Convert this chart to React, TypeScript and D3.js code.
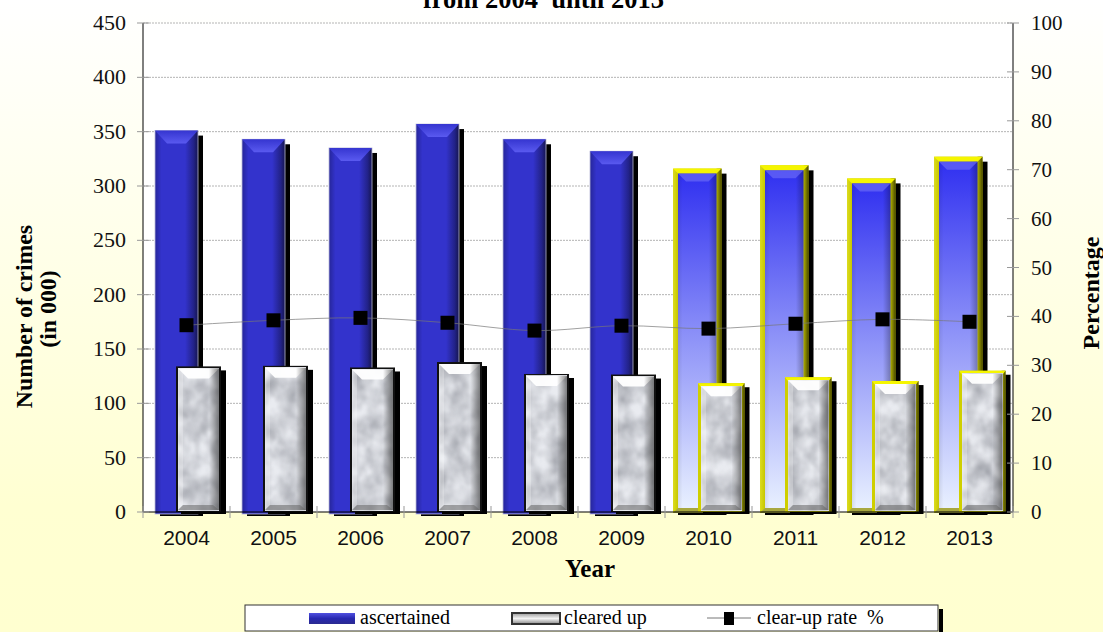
import React from "react";
import * as d3 from "d3";

const years = ["2004","2005","2006","2007","2008","2009","2010","2011","2012","2013"];
const ascertained = [351,343,335,357,343,332,316,319,307,327];
const clearedUp = [134,134.5,133,138,127,126.5,118.5,124,120.5,130];
const clearUpRate = [38.2,39.2,39.7,38.7,37.1,38.1,37.5,38.5,39.4,38.9];
const highlightYears = ["2010","2011","2012","2013"];
const leftTicks = d3.range(0, 451, 50);
const rightTicks = d3.range(0, 101, 10);

const W = 1103, H = 632;
const L = 143, R = 1013, T = 23, B = 512;
const x = d3.scaleBand<string>().domain(years).range([L, R]);
const yL = d3.scaleLinear().domain([0, 450]).range([B, T]);
const yR = d3.scaleLinear().domain([0, 100]).range([B, T]);
const serif = "'Liberation Serif', serif";
const sans = "'Liberation Sans', sans-serif";

function poly(pts: number[][], fill: string, op = 1) {
  return <polygon points={pts.map(p => p.join(",")).join(" ")} fill={fill} opacity={op} />;
}

function BlueBar({ cx, top }: { cx: number; top: number }) {
  const x0 = cx - 31.5, x1 = cx + 11.5, b = B + 2;
  return <g>
    <rect x={x0 + 5} y={top + 5} width={x1 - x0} height={b - top - 3} fill="#000" />
    <rect x={x0} y={top} width={x1 - x0} height={b - top} fill="url(#blueH)" stroke="#b9b9d8" strokeWidth={0.8} />
    {poly([[x0, top], [x1, top], [x1 - 12, top + 13], [x0 + 12, top + 13]], "url(#blueTop)")}
  </g>;
}

function YellowBar({ cx, top }: { cx: number; top: number }) {
  const x0 = cx - 35.5, x1 = cx + 13, b = B + 1, bw = 5;
  return <g>
    <rect x={x0 + 5} y={top + 5} width={x1 - x0} height={b - top - 3} fill="#000" />
    <rect x={x0} y={top} width={x1 - x0} height={b - top} fill="url(#yellowLeft)" />
    <rect x={x1 - bw} y={top} width={bw} height={b - top} fill="url(#oliveH)" />
    {poly([[x0, top], [x1, top], [x1 - bw, top + bw], [x0 + bw, top + bw]], "#f5f500")}
    {poly([[x0, b], [x1, b], [x1 - bw, b - bw], [x0 + bw, b - bw]], "#a8a840")}
    <rect x={x0 + bw} y={top + bw} width={x1 - x0 - 2 * bw} height={b - top - 2 * bw} fill="url(#blueV)" />
    <rect x={x0 + bw} y={top + bw} width={x1 - x0 - 2 * bw} height={b - top - 2 * bw} fill="url(#shadeH)" />
    {poly([[x0 + bw, top + bw], [x1 - bw, top + bw], [x1 - bw - 8, top + bw + 8], [x0 + bw + 8, top + bw + 8]], "#6a6af5", 0.7)}
  </g>;
}

function ClearedBar({ cx, top, yellow }: { cx: number; top: number; yellow: boolean }) {
  const x0 = cx - 10.5, x1 = cx + (yellow ? 36 : 34.5), b = B, bw = yellow ? 3 : 2;
  const inX0 = x0 + bw, inX1 = x1 - bw, inT = top + bw;
  return <g>
    <rect x={x0 + 5} y={top + 4} width={x1 - x0} height={b - top - 2} fill="#000" />
    <rect x={x0} y={top} width={x1 - x0} height={b - top} fill={yellow ? "#cfcf00" : "#111"} />
    {yellow && <rect x={x1 - bw - 1} y={top} width={bw + 1} height={b - top} fill="url(#oliveH)" />}
    {yellow && poly([[x0, top], [x1, top], [x1 - bw, top + bw + 1], [x0 + bw, top + bw + 1]], "#f5f500")}
    <rect x={inX0} y={inT} width={inX1 - inX0} height={b - inT - 1} fill="#dfe2e8" filter="url(#marble)" />
    {poly([[inX0, inT], [inX1, inT], [inX1 - 10, inT + 10], [inX0 + 10, inT + 10]], "#ffffff", 0.95)}
    {poly([[inX0, inT], [inX0 + 5, inT + 5], [inX0 + 5, b - 7], [inX0, b - 2]], "#ffffff", 0.25)}
    <rect x={inX1 - 10} y={inT} width={10} height={b - inT - 2} fill="url(#marbleRight)" />
    {poly([[inX0, b - 2], [inX1, b - 2], [inX1 - 6, b - 7], [inX0 + 5, b - 7]], "#666666", 0.55)}
  </g>;
}

export default function App() {
  const rateLine = d3.line<number>()
    .x((_, i) => x(years[i])! + x.bandwidth() / 2)
    .y(d => yR(d))
    .curve(d3.curveCatmullRom.alpha(0.5));
  return (
    <svg width={W} height={H} style={{ position: "absolute", left: 0, top: 0 }}>
      <defs>
        <linearGradient id="page" x1="0" y1="0" x2="0" y2="1">
          <stop offset="0" stopColor="#ffffff" />
          <stop offset="0.8" stopColor="#ffffd2" />
          <stop offset="1" stopColor="#ffffd0" />
        </linearGradient>
        <linearGradient id="blueH" x1="0" y1="0" x2="1" y2="0">
          <stop offset="0" stopColor="#26269a" />
          <stop offset="0.15" stopColor="#3333cc" />
          <stop offset="0.7" stopColor="#3333cc" />
          <stop offset="0.9" stopColor="#222288" />
          <stop offset="1" stopColor="#15154f" />
        </linearGradient>
        <linearGradient id="blueTop" x1="0" y1="0" x2="0" y2="1">
          <stop offset="0" stopColor="#3535d0" />
          <stop offset="1" stopColor="#5a5af0" />
        </linearGradient>
        <linearGradient id="blueV" x1="0" y1="0" x2="0" y2="1">
          <stop offset="0" stopColor="#3030f0" />
          <stop offset="0.5" stopColor="#8f94f8" />
          <stop offset="1" stopColor="#e8f0ff" />
        </linearGradient>
        <linearGradient id="shadeH" x1="0" y1="0" x2="1" y2="0">
          <stop offset="0" stopColor="#000" stopOpacity="0.08" />
          <stop offset="0.12" stopColor="#000" stopOpacity="0" />
          <stop offset="0.8" stopColor="#000" stopOpacity="0" />
          <stop offset="1" stopColor="#000" stopOpacity="0.28" />
        </linearGradient>
        <linearGradient id="yellowLeft" x1="0" y1="0" x2="1" y2="0">
          <stop offset="0" stopColor="#dcdc20" />
          <stop offset="0.1" stopColor="#c8c800" />
          <stop offset="1" stopColor="#c8c800" />
        </linearGradient>
        <linearGradient id="oliveH" x1="0" y1="0" x2="1" y2="0">
          <stop offset="0" stopColor="#b0b000" />
          <stop offset="1" stopColor="#4a4a00" />
        </linearGradient>
        <linearGradient id="marbleRight" x1="0" y1="0" x2="1" y2="0">
          <stop offset="0" stopColor="#333" stopOpacity="0" />
          <stop offset="1" stopColor="#333" stopOpacity="0.6" />
        </linearGradient>
        <linearGradient id="legendBlue" x1="0" y1="0" x2="0" y2="1">
          <stop offset="0" stopColor="#5050e0" />
          <stop offset="0.5" stopColor="#2828b0" />
          <stop offset="1" stopColor="#2a2a90" />
        </linearGradient>
        <linearGradient id="legendGray" x1="0" y1="0" x2="0" y2="1">
          <stop offset="0" stopColor="#999" />
          <stop offset="0.5" stopColor="#f4f4f4" />
          <stop offset="1" stopColor="#888" />
        </linearGradient>
        <filter id="marble" x="0" y="0" width="100%" height="100%" colorInterpolationFilters="sRGB">
          <feTurbulence type="fractalNoise" baseFrequency="0.06 0.05" numOctaves="3" seed="7" />
          <feColorMatrix type="matrix" values="0 0 0 0 0.62  0 0 0 0 0.63  0 0 0 0 0.66  1.1 1.1 0 0 -0.75" />
          <feGaussianBlur stdDeviation="1.2" result="veins" />
          <feFlood floodColor="#e9ebf0" result="base" />
          <feMerge>
            <feMergeNode in="base" />
            <feMergeNode in="veins" />
          </feMerge>
        </filter>
      </defs>
      <rect width={W} height={H} fill="url(#page)" />
      <rect x={L} y={T} width={R - L} height={B - T} fill="#fff" />

      <text x={543.5} y={8} textAnchor="middle" fontFamily={serif} fontWeight="bold" fontSize={26.5} style={{ whiteSpace: "pre" }} fill="#000">from 2004  until 2013</text>

      {leftTicks.filter(t => t > 0).map(t => (
        <line key={t} x1={L} x2={R} y1={yL(t)} y2={yL(t)} stroke="#b4b4b4" strokeWidth={1} strokeDasharray="2 1" />
      ))}

      {years.map((yr, i) => {
        const cx = x(yr)! + x.bandwidth() / 2;
        return highlightYears.includes(yr)
          ? <YellowBar key={yr} cx={cx} top={yL(ascertained[i])} />
          : <BlueBar key={yr} cx={cx} top={yL(ascertained[i])} />;
      })}
      {years.map((yr, i) => {
        const cx = x(yr)! + x.bandwidth() / 2;
        return <ClearedBar key={yr} cx={cx} top={yL(clearedUp[i])} yellow={highlightYears.includes(yr)} />;
      })}

      <path d={rateLine(clearUpRate) || ""} fill="none" stroke="#777" strokeWidth={0.7} />
      {clearUpRate.map((r, i) => (
        <rect key={years[i]} x={x(years[i])! + x.bandwidth() / 2 - 7} y={yR(r) - 7} width={14} height={14} fill="#000" />
      ))}

      <line x1={L} x2={L} y1={T} y2={B} stroke="#000" strokeWidth={1} />
      <line x1={R} x2={R} y1={T} y2={B} stroke="#000" strokeWidth={1} />
      <line x1={L} x2={R} y1={B} y2={B} stroke="#000" strokeWidth={1.2} />

      {leftTicks.map(t => (
        <g key={t}>
          <line x1={L - 6} x2={L + 6} y1={yL(t)} y2={yL(t)} stroke="#999" />
          <text x={126} y={yL(t) + 7} textAnchor="end" fontFamily={serif} fontSize={22} fill="#111">{t}</text>
        </g>
      ))}
      {rightTicks.map(t => (
        <g key={t}>
          <line x1={R - 6} x2={R + 6} y1={yR(t)} y2={yR(t)} stroke="#999" />
          <text x={1031} y={yR(t) + 7} fontFamily={serif} fontSize={21} fill="#111">{t}</text>
        </g>
      ))}
      {d3.range(0, years.length + 1).map(i => (
        <line key={i} x1={L + i * x.step()} x2={L + i * x.step()} y1={B - 6} y2={B + 6} stroke="#999" />
      ))}
      {years.map(yr => (
        <text key={yr} x={x(yr)! + x.bandwidth() / 2} y={545} textAnchor="middle" fontFamily={sans} fontSize={21} fill="#111">{yr}</text>
      ))}

      <text x={590} y={577} textAnchor="middle" fontFamily={serif} fontWeight="bold" fontSize={25} fill="#000">Year</text>
      <text transform="translate(32,316.5) rotate(-90)" textAnchor="middle" fontFamily={serif} fontWeight="bold" fontSize={23.8} fill="#000">Number of crimes</text>
      <text transform="translate(56,309) rotate(-90)" textAnchor="middle" fontFamily={serif} fontWeight="bold" fontSize={23.8} fill="#000">(in 000)</text>
      <text transform="translate(1099,293) rotate(-90)" textAnchor="middle" fontFamily={serif} fontWeight="bold" fontSize={24} fill="#000">Percentage</text>

      <rect x={939} y={609} width={4} height={23} fill="#000" />
      <rect x={245} y={605} width={693} height={26} fill="#fff" stroke="#333" strokeWidth={1} />
      <rect x={309} y={613} width={46} height={11} fill="url(#legendBlue)" />
      <text x={360} y={624} fontFamily={serif} fontSize={20} fill="#000">ascertained</text>
      <rect x={512} y={613} width={48} height={11} fill="url(#legendGray)" stroke="#333" strokeWidth={2} />
      <text x={564} y={624} fontFamily={serif} fontSize={20} fill="#000">cleared up</text>
      <line x1={707} x2={751} y1={618} y2={618} stroke="#777" />
      <rect x={724} y={612} width={10} height={13} fill="#000" />
      <text x={757} y={624} fontFamily={serif} fontSize={20} fill="#000" style={{ whiteSpace: "pre" }}>clear-up rate  %</text>
    </svg>
  );
}
